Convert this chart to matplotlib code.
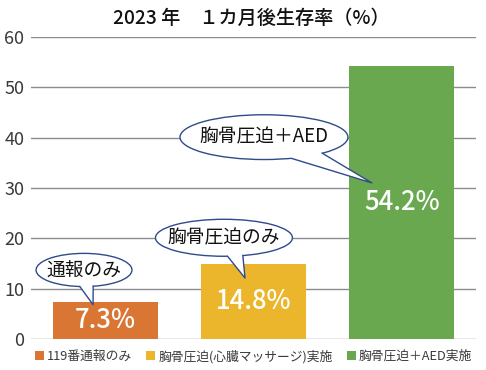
import numpy as np
import matplotlib
matplotlib.use("Agg")
import matplotlib.pyplot as plt
from matplotlib.patches import Ellipse, Polygon, Patch

plt.rcParams['font.family'] = ['Noto Sans CJK JP', 'DejaVu Sans']

# データ
categories = ["119番通報のみ", "胸骨圧迫(心臓マッサージ)実施", "胸骨圧迫＋AED実施"]
values = [7.3, 14.8, 54.2]
colors = ["#D97634", "#EBB52C", "#6AA84F"]
title = "2023 年　１カ月後生存率（%）"

# 吹き出し: テキスト, 中心, 幅, 高さ, 先端, 付け根の角度
callouts = [
    ("通報のみ", (-0.143, 13.7), 0.647, 6.6, (-0.082, 6.8), (265, 281)),
    ("胸骨圧迫のみ", (0.801, 20.1), 0.924, 7.35, (0.943, 12.1), (273, 286)),
    ("胸骨圧迫＋AED", (1.071, 40.1), 1.133, 8.9, (1.799, 31.0), (289, 314)),
]

fig = plt.figure(figsize=(4.86, 3.70), dpi=100)
ax = fig.add_axes([0.064, 0.084, 0.915, 0.816])

x = np.arange(len(values))
bars = ax.bar(x, values, width=0.71, color=colors, zorder=3)

for b, v in zip(bars, values):
    ax.text(b.get_x() + b.get_width() / 2, v / 2, f"{v}%", ha="center", va="center",
            color="white", fontsize=18.5, fontweight="medium", zorder=4)

ax.set_xlim(-0.5, 2.5)
ax.set_ylim(0, 60)
ax.set_yticks(range(0, 61, 10))
ax.set_xticks([])
ax.yaxis.grid(True, color="#8c8c8c", lw=1.0, zorder=0)
for s in ax.spines.values():
    s.set_visible(False)
ax.tick_params(axis="y", length=0, labelsize=13, labelcolor="#3a3a3a", pad=5)

edge = "#2F4B8C"
for text, (cx, cy), w, h, (tx, ty), (a1, a2) in callouts:
    ax.add_patch(Ellipse((cx, cy), w, h, facecolor="white", edgecolor=edge, lw=1.0, zorder=5))
    t1, t2 = np.radians(a1), np.radians(a2)
    p1 = (cx + w / 2 * np.cos(t1), cy + h / 2 * np.sin(t1))
    p2 = (cx + w / 2 * np.cos(t2), cy + h / 2 * np.sin(t2))
    i1 = (cx + 0.85 * w / 2 * np.cos(t1), cy + 0.85 * h / 2 * np.sin(t1))
    i2 = (cx + 0.85 * w / 2 * np.cos(t2), cy + 0.85 * h / 2 * np.sin(t2))
    ax.add_patch(Polygon([i1, p1, (tx, ty), p2, i2], closed=True, facecolor="white",
                         edgecolor="none", zorder=6))
    ax.plot([p1[0], tx, p2[0]], [p1[1], ty, p2[1]], color=edge, lw=1.0, zorder=7)
    ax.text(cx, cy, text, ha="center", va="center", fontsize=13.5, color="#111111", zorder=8)

fig.text(0.518, 0.952, title, ha="center", va="center", fontsize=13.8,
         fontweight="medium", color="#111111")

handles = [Patch(facecolor=c, edgecolor="none") for c in colors]
fig.legend(handles, categories, loc="center", bbox_to_anchor=(0.522, 0.037), ncol=3,
           frameon=False, fontsize=9.2, handlelength=0.7, handleheight=0.7,
           handletextpad=0.25, columnspacing=1.1, borderaxespad=0, labelcolor="#3a3a3a")

fig.savefig("out.png", dpi=100)
